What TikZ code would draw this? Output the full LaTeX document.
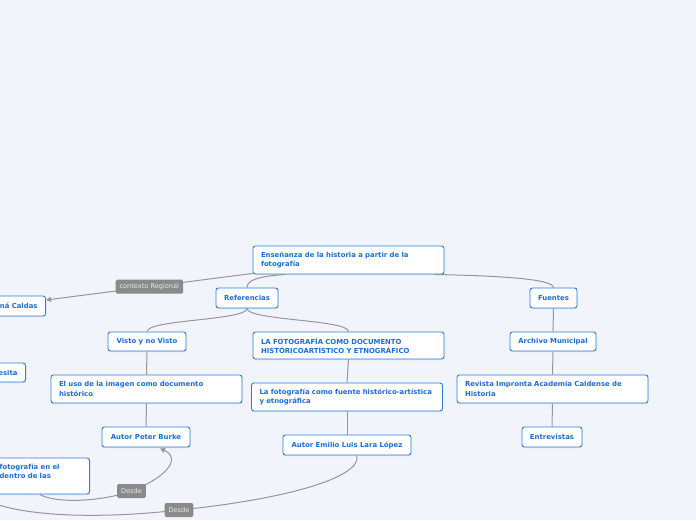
\documentclass[tikz,border=0pt]{standalone}
\usepackage{fontspec}
\setmainfont{DejaVu Sans}
\usetikzlibrary{calc,shadows,arrows.meta}

\definecolor{mapbg}{HTML}{F2F4FC}
\definecolor{mapblue}{HTML}{2A7FDE}
\definecolor{maptext}{HTML}{1A6ED8}
\definecolor{mapline}{HTML}{979797}
\definecolor{maptag}{HTML}{8A8A8A}
\newcommand{\topicfont}{\fontsize{6.9}{9.3}\selectfont\bfseries\hyphenpenalty=10000\relax}

\begin{document}
\begin{tikzpicture}[x=1pt, y=-1pt,
    topic/.style={draw=mapblue, fill=white, line width=0.9pt, rounded corners=2.5pt,
        text=maptext, font=\topicfont,
        inner xsep=8pt, inner ysep=2pt, minimum height=20pt,
        drop shadow={opacity=0.18, shadow xshift=0.4pt, shadow yshift=-1pt}},
    widetopic/.style={topic, text width=175pt, align=left, minimum height=28pt},
    link/.style={draw=mapline, line width=1pt},
    tag/.style={fill=maptag, rounded corners=1.5pt, text=white!92!black,
        font=\fontsize{6.6}{7}\selectfont, inner xsep=4pt, minimum height=14pt}]

    % Canvas
    \useasboundingbox (0,0) rectangle (696,520);
    \fill[mapbg] (0,0) rectangle (696,520);
    \clip (0,0) rectangle (696,520);

    % Main topic
    \node[widetopic] (root) at (348.5,260) {Enseñanza de la historia a partir de la fotografía};

    % Branches
    \node[topic, minimum width=62pt] (ref) at (247,298) {Referencias};
    \node[topic, minimum width=47pt] (fuentes) at (553.5,298) {Fuentes};

    % Referencias side
    \node[topic, minimum width=78pt, minimum height=19pt] (visto) at (147,341.5) {Visto y no Visto};
    \node[widetopic, minimum height=27pt] (lafoto) at (348.5,345.5) {LA FOTOGRAFÍA COMO DOCUMENTO HISTÓRICOARTÍSTICO Y ETNOGRÁFICO};
    \node[widetopic] (eluso) at (146.5,389) {El uso de la imagen como documento histórico};
    \node[widetopic] (fuente) at (347,397) {La fotografía como fuente histórico-artística y etnográfica};
    \node[topic, minimum width=88pt] (burke) at (146,437) {Autor Peter Burke};
    \node[topic, minimum width=128pt] (emilio) at (347,445) {Autor Emilio Luis Lara López};

    % Fuentes side
    \node[topic, minimum width=86pt, minimum height=19pt] (archivo) at (553,341.5) {Archivo Municipal};
    \node[widetopic] (revista) at (552.5,389) {Revista Impronta Academia Caldense de Historia};
    \node[topic, minimum width=60pt] (entrevistas) at (552,437) {Entrevistas};

    % Topics cut by the left edge
    \node[topic, text width=50pt, align=right, anchor=east] (caldas) at (46,306) {ná Caldas};
    \node[topic, text width=30pt, align=right, anchor=east, minimum height=19pt] (esita) at (26,372.5) {esita};
    \node[topic, text width=82pt, align=left, anchor=east, minimum height=36pt] (fotoleft) at (90,476) {fotografía en el\\ dentro de las\\ ~};

    % Connectors from the main topic
    \draw[link] ($(root.south west)+(32,0)$) .. controls +(-25,2) and +(0,-8) .. (ref.north);
    \draw[link] ($(root.south east)+(-10,0)$) .. controls +(45,1) and +(0,-10) .. (fuentes.north);
    \draw[link, -{Triangle[length=5pt, width=5pt]}] ($(root.south west)+(0,-1)$)
        -- node[tag] (regional) {contexto Regional} ($(caldas.east)+(0,-6)$);

    % Referencias tree
    \draw[link] (ref.south) .. controls +(0,12) and +(0,-12) .. (visto.north);
    \draw[link] (ref.south) .. controls +(0,12) and +(0,-12) .. (lafoto.north);
    \draw[link] (visto.south) -- (eluso.north);
    \draw[link] (eluso.south) -- (burke.north);
    \draw[link] (lafoto.south) -- (fuente.north);
    \draw[link] (fuente.south) -- (emilio.north);

    % Fuentes tree
    \draw[link] (fuentes.south) -- (archivo.north);
    \draw[link] (archivo.south) -- (revista.north);
    \draw[link] (revista.south) -- (entrevistas.north);

    % Desde links
    \coordinate (desdeA) at (131.5,491);
    \coordinate (desdeB) at (179,510);
    \coordinate (offleft) at (-15,500);
    \draw[link, -{Triangle[length=5pt, width=5pt]}] ($(fotoleft.south east)+(-50,0)$)
        .. controls +(15,9) and +(-31,11) .. (desdeA) node[tag] (desde1) {Desde}
        .. controls +(34,-13) and +(22,10) .. ($(burke.south)+(14,1)$);
    \draw[link] ($(emilio.south)+(10,0)$)
        .. controls +(5,23) and +(101,-10) .. (desdeB) node[tag] (desde2) {Desde}
        .. controls +(-59,7) and +(45,20) .. (offleft);
\end{tikzpicture}
\end{document}
